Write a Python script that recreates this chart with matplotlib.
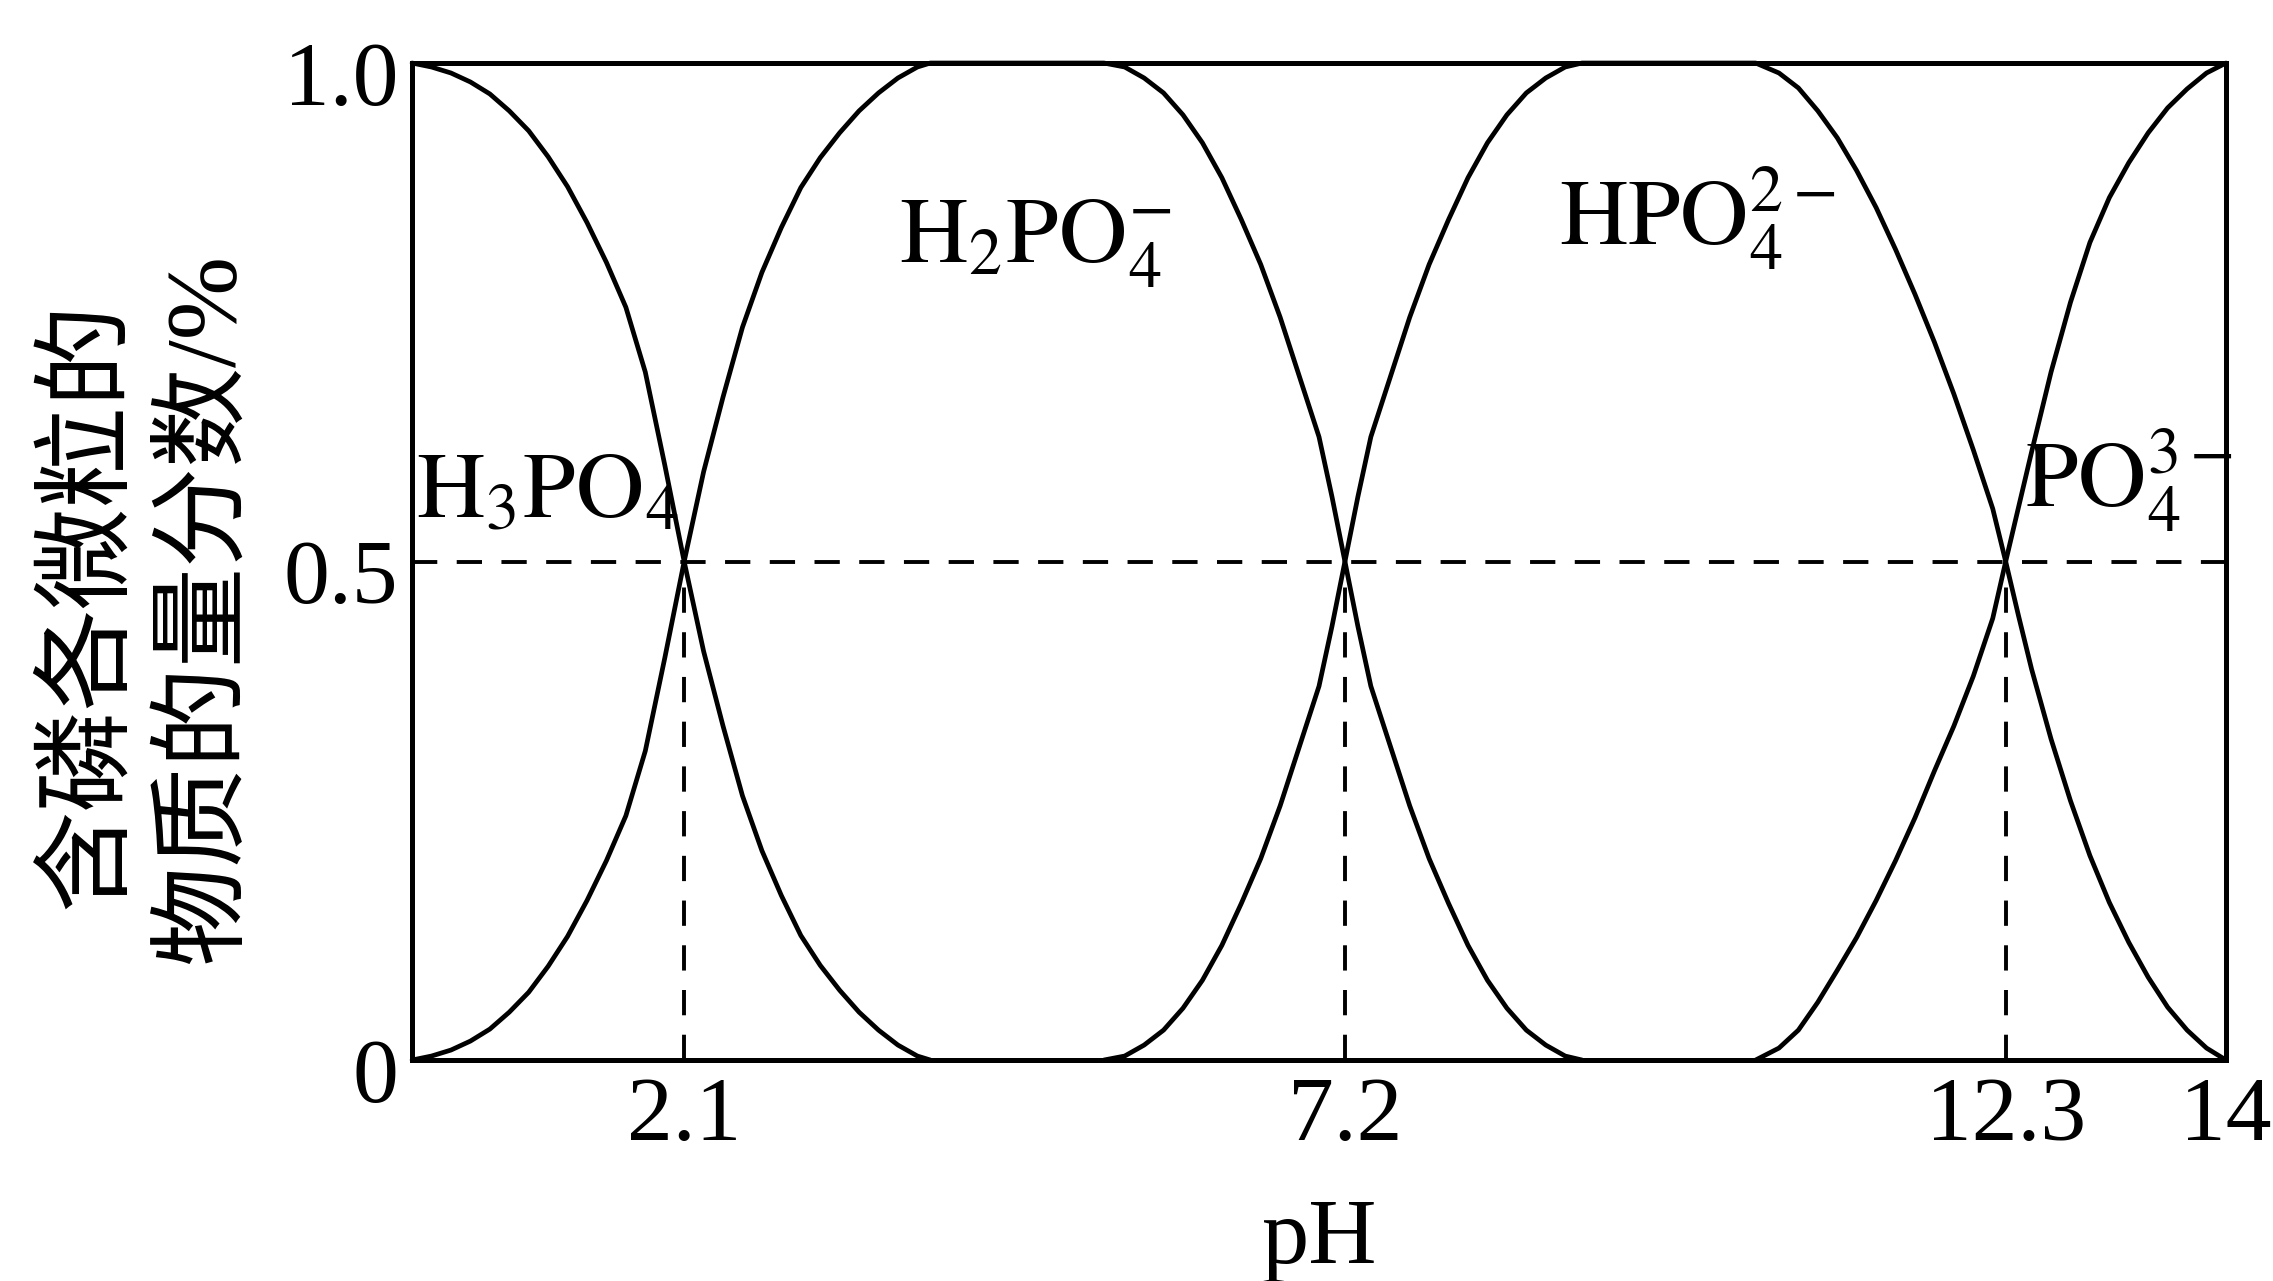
import matplotlib
matplotlib.use("Agg")
from matplotlib import pyplot as plt
from matplotlib.transforms import ScaledTranslation

# values (pH, fraction)
ph_t1 = [0, 0.15, 0.3, 0.45, 0.6, 0.75, 0.9, 1.05, 1.2, 1.35, 1.5, 1.65, 1.8, 1.95,
         2.1, 2.25, 2.4, 2.55, 2.7, 2.85, 3.0, 3.15, 3.3, 3.45, 3.6, 3.75, 3.9, 4.0]
frac_h3po4 = [1.0, 0.996, 0.99, 0.981, 0.969, 0.952, 0.932, 0.906, 0.876, 0.84, 0.80, 0.755, 0.69, 0.597,
              0.5, 0.41, 0.335, 0.265, 0.21, 0.165, 0.125, 0.095, 0.07, 0.048, 0.03, 0.015, 0.004, 0.0]
frac_h2po4_up = [0.0, 0.004, 0.01, 0.019, 0.031, 0.048, 0.068, 0.094, 0.124, 0.16, 0.20, 0.245, 0.31, 0.403,
                 0.5, 0.59, 0.665, 0.735, 0.79, 0.835, 0.875, 0.905, 0.93, 0.952, 0.97, 0.985, 0.996, 1.0]

ph_t2 = [5.34, 5.5, 5.65, 5.8, 5.95, 6.1, 6.25, 6.4, 6.55, 6.7, 6.85, 7.0, 7.1,
         7.2, 7.3, 7.4, 7.55, 7.7, 7.85, 8.0, 8.15, 8.3, 8.45, 8.6, 8.75, 8.9, 9.03]
frac_h2po4_down = [1.0, 0.996, 0.985, 0.97, 0.948, 0.92, 0.885, 0.843, 0.798, 0.745, 0.685, 0.625, 0.565,
                   0.5, 0.435, 0.375, 0.315, 0.255, 0.202, 0.157, 0.115, 0.08, 0.052, 0.03, 0.015, 0.004, 0.0]
frac_hpo4_up = [0.0, 0.004, 0.015, 0.03, 0.052, 0.08, 0.115, 0.157, 0.202, 0.255, 0.315, 0.375, 0.435,
                0.5, 0.565, 0.625, 0.685, 0.745, 0.798, 0.843, 0.885, 0.92, 0.948, 0.97, 0.985, 0.996, 1.0]

ph_t3 = [10.37, 10.55, 10.7, 10.85, 11.0, 11.15, 11.3, 11.45, 11.6, 11.75, 11.9, 12.05, 12.2,
         12.3, 12.4, 12.5, 12.65, 12.8, 12.95, 13.1, 13.25, 13.4, 13.55, 13.7, 13.85, 14.0]
frac_hpo4_down = [1.0, 0.99, 0.975, 0.952, 0.925, 0.892, 0.855, 0.813, 0.768, 0.72, 0.668, 0.612, 0.553,
                  0.5, 0.445, 0.392, 0.322, 0.26, 0.205, 0.158, 0.118, 0.083, 0.053, 0.03, 0.012, 0.0]
frac_po4 = [0.0, 0.012, 0.03, 0.058, 0.09, 0.123, 0.16, 0.2, 0.243, 0.29, 0.335, 0.385, 0.443,
            0.5, 0.555, 0.61, 0.69, 0.76, 0.82, 0.865, 0.9, 0.93, 0.955, 0.974, 0.99, 1.0]

pka = [2.1, 7.2, 12.3]
x_ticks = [2.1, 7.2, 12.3, 14]
x_labels = ["2.1", "7.2", "12.3", "14"]
y_ticks = [0, 0.5, 1.0]
y_labels = ["0", "0.5", "1.0"]

species = [r"$\mathrm{H_3PO_4}$", r"$\mathrm{H_2PO_4^{-}}$", r"$\mathrm{HPO_4^{2-}}$", r"$\mathrm{PO_4^{3-}}$"]
species_x = [0.03, 3.76, 8.85, 12.45]
species_y = [0.545, 0.80, 0.818, 0.555]

plt.rcParams["font.family"] = ["Liberation Serif", "Noto Sans CJK SC"]
plt.rcParams["mathtext.fontset"] = "stix"

fig = plt.figure(figsize=(22.73, 12.81), dpi=100)
ax = fig.add_axes([0.1813, 0.1725, 0.798, 0.7783])

# H2PO4- and HPO4 2- each run up, along the top, then down
ph_h2po4 = ph_t1 + ph_t2
frac_h2po4 = frac_h2po4_up + frac_h2po4_down
ph_hpo4 = ph_t2 + ph_t3
frac_hpo4 = frac_hpo4_up + frac_hpo4_down

for xs, ys in [(ph_t1, frac_h3po4), (ph_h2po4, frac_h2po4),
               (ph_hpo4, frac_hpo4), (ph_t3, frac_po4)]:
    ax.plot(xs, ys, color="black", lw=3.4, solid_joinstyle="round",
            solid_capstyle="round", clip_on=False)

dash = (0, (6.5, 5))
ax.axhline(0.5, color="black", lw=2.8, linestyle=dash)
for p in pka:
    ax.plot([p, p], [0, 0.5], color="black", lw=2.8, linestyle=dash)

for label, sx, sy in zip(species, species_x, species_y):
    ax.text(sx, sy, label, fontsize=68, ha="left", va="baseline")

ax.set_xlim(0, 14)
ax.set_ylim(0, 1.0)
ax.set_xticks(x_ticks)
ax.set_xticklabels(x_labels)
ax.set_yticks(y_ticks)
ax.set_yticklabels(y_labels)
ax.tick_params(length=0, labelsize=66)
ax.tick_params(axis="x", pad=12)
ax.tick_params(axis="y", pad=10)
for lab in ax.get_yticklabels():
    lab.set_transform(lab.get_transform() + ScaledTranslation(0, -10 / 100, fig.dpi_scale_trans))
for s in ax.spines.values():
    s.set_linewidth(3.6)

ax.set_xlabel("pH", fontsize=68, labelpad=28)

fig.text(0.040, 0.528, "含磷各微粒的", rotation=90, fontsize=73, ha="center", va="center")
fig.text(0.0906, 0.525, "物质的量分数/%", rotation=90, fontsize=72, ha="center", va="center")

fig.savefig("out.png", dpi=100)
